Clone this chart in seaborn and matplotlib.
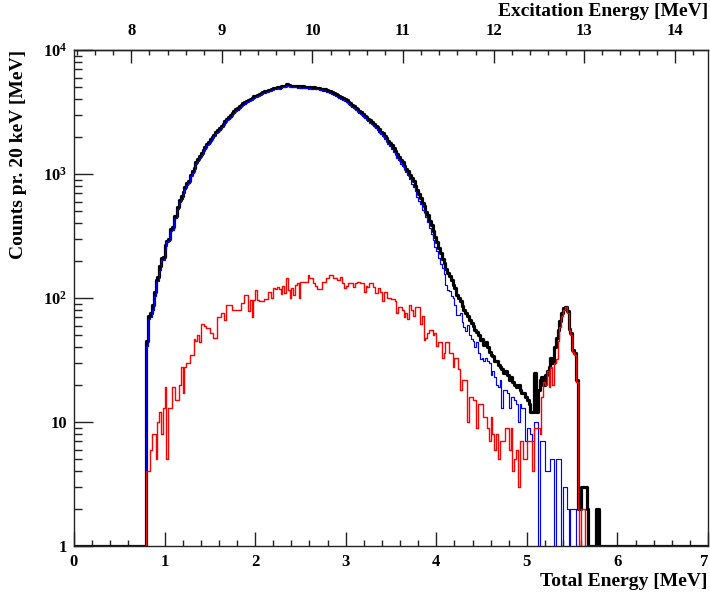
import numpy as np
import pandas as pd
import matplotlib
matplotlib.use("Agg")
import matplotlib.pyplot as plt
import seaborn as sns
from matplotlib.ticker import (FixedLocator, FixedFormatter, LogLocator,
                               MultipleLocator, NullFormatter)

# ---------------- data (counts per 20 keV bin) ----------------
bin_width = 0.02          # MeV
first_edge = 0.80         # MeV, first filled bin
n_bins = 350              # 0 - 7 MeV
ex_offset = 7.367         # Excitation = Total + offset

total_counts = [
    45, 72, 76, 88, 112, 140, 148, 180, 210, 214,
    268, 290, 300, 360, 375, 455, 460, 540, 620, 660,
    720, 790, 850, 880, 990, 1060, 1110, 1240, 1320, 1390,
    1490, 1560, 1640, 1760, 1800, 1910, 2000, 2060, 2190, 2260,
    2340, 2460, 2550, 2660, 2790, 2870, 2990, 3080, 3210, 3320,
    3390, 3510, 3600, 3720, 3780, 3880, 3960, 4050, 4110, 4220,
    4290, 4370, 4440, 4520, 4560, 4630, 4680, 4750, 4790, 4870,
    4930, 4980, 5060, 5010, 5090, 5140, 5100, 5310, 5200, 5150,
    5160, 5110, 5140, 5090, 5120, 5070, 5100, 5050, 5060, 5010,
    5040, 4980, 5000, 4950, 4970, 4900, 4880, 4840, 4810, 4750,
    4700, 4630, 4560, 4470, 4400, 4330, 4250, 4160, 4070, 4000,
    3930, 3800, 3710, 3620, 3520, 3430, 3340, 3240, 3160, 3050,
    2960, 2890, 2800, 2710, 2640, 2550, 2460, 2380, 2290, 2200,
    2130, 2030, 1960, 1860, 1790, 1700, 1610, 1540, 1440, 1380,
    1300, 1240, 1170, 1100, 1050, 980, 920, 870, 800, 740,
    690, 640, 585, 550, 495, 465, 420, 385, 345, 312,
    282, 255, 232, 208, 192, 172, 160, 150, 140, 128,
    120, 106, 100, 94, 86, 80, 76, 71, 66, 63,
    60, 55, 53, 50, 46, 47, 42, 44, 40, 37,
    35, 34, 31, 31, 29, 28, 27, 25, 26, 24,
    22, 23, 21, 20, 19, 20, 18, 17, 17, 16,
    15, 14, 12, 12, 25, 12, 18, 22, 23, 20,
    24, 26, 28, 33, 30, 40, 48, 55, 65, 75,
    83, 85, 78, 56, 52, 38, 36, 22, 2, 2,
    3, 3, 3, 2, 0, 0, 0, 0, 2, 2,
    0, 0, 0, 0, 0, 0, 0, 0, 0, 0,
]

blue_counts = [
    41, 68, 70, 80, 104, 135, 138, 168, 202, 201,
    249, 285, 287, 347, 356, 436, 445, 525, 600, 632,
    703, 762, 820, 850, 955, 1025, 1063, 1195, 1270, 1346,
    1428, 1498, 1580, 1703, 1743, 1858, 1948, 2012, 2142, 2190,
    2270, 2385, 2475, 2594, 2702, 2782, 2902, 3000, 3130, 3240,
    3310, 3430, 3509, 3629, 3674, 3774, 3882, 3953, 4040, 4123,
    4174, 4274, 4346, 4426, 4466, 4531, 4581, 4638, 4678, 4770,
    4810, 4862, 4938, 4892, 4982, 5014, 4990, 5166, 5085, 5050,
    5040, 5005, 5012, 4959, 5020, 4935, 4965, 4915, 4925, 4857,
    4896, 4836, 4869, 4825, 4851, 4781, 4761, 4705, 4675, 4606,
    4556, 4477, 4407, 4326, 4256, 4191, 4111, 4012, 3939, 3880,
    3805, 3669, 3579, 3489, 3398, 3299, 3205, 3105, 3029, 2919,
    2848, 2765, 2678, 2579, 2509, 2428, 2351, 2271, 2170, 2088,
    2036, 1918, 1848, 1760, 1690, 1600, 1512, 1442, 1345, 1304,
    1215, 1155, 1090, 1030, 975, 912, 832, 790, 728, 655,
    605, 578, 513, 504, 447, 413, 365, 330, 295, 260,
    241, 211, 188, 175, 156, 128, 116, 114, 104, 100,
    87, 73, 73, 76, 64, 58, 54, 61, 50, 47,
    45, 40, 44, 36, 32, 33, 31, 33, 31, 30,
    24, 26, 23, 20, 19, 22, 13, 18, 18, 17,
    13, 16, 16, 15, 14, 10, 14, 13, 13, 7,
    9, 9, 8, 7, 10, 10, 0, 7, 7, 7,
    4, 4, 4, 5, 5, 0, 5, 5, 5, 0,
    3, 3, 2, 0, 2, 2, 2, 0, 0, 0,
    0, 0, 0, 0, 0, 0, 0, 0, 0, 0,
    0, 0, 0, 0, 0, 0, 0, 0, 0, 0,
]

red_counts = [
    4, 4, 6, 8, 8, 5, 10, 12, 8, 13,
    19, 5, 13, 13, 19, 19, 15, 15, 20, 28,
    17, 28, 30, 30, 35, 35, 47, 45, 50, 44,
    62, 62, 60, 57, 57, 52, 52, 48, 48, 70,
    70, 75, 75, 66, 88, 88, 88, 80, 80, 80,
    80, 80, 91, 91, 106, 106, 78, 97, 70, 97,
    116, 96, 94, 94, 94, 99, 99, 112, 112, 100,
    120, 118, 122, 118, 108, 126, 110, 144, 115, 100,
    120, 105, 128, 131, 100, 135, 135, 135, 135, 153,
    144, 144, 131, 125, 119, 119, 119, 135, 135, 144,
    144, 153, 153, 144, 144, 139, 139, 148, 131, 120,
    125, 131, 131, 131, 122, 131, 135, 135, 131, 131,
    112, 125, 122, 131, 131, 122, 109, 109, 120, 112,
    94, 112, 112, 100, 100, 98, 98, 95, 76, 85,
    85, 80, 70, 75, 68, 88, 80, 72, 85, 85,
    85, 62, 72, 46, 48, 52, 55, 55, 50, 52,
    41, 44, 44, 33, 36, 44, 44, 36, 36, 28,
    33, 33, 27, 18, 22, 22, 22, 10, 16, 16,
    15, 15, 9, 14, 14, 14, 11, 11, 9, 7,
    11, 8, 6, 8, 5, 7, 7, 7, 9, 9,
    6, 9, 4, 5, 6, 3, 7, 7, 5, 5,
    7, 7, 7, 4, 9, 9, 9, 8, 16, 21,
    20, 26, 19, 28, 20, 30, 32, 45, 58, 72,
    80, 84, 76, 55, 50, 37, 35, 21, 2, 0,
    2, 2, 0, 0, 0, 0, 0, 0, 0, 0,
    0, 0, 0, 0, 0, 0, 0, 0, 0, 0,
]

x_tick_labels = ["0", "1", "2", "3", "4", "5", "6", "7"]
y_tick_values = [1, 10, 100, 1000, 10000]
y_tick_labels = ["1", "10", r"$10^{2}$", r"$10^{3}$", r"$10^{4}$"]
ex_tick_labels = ["8", "9", "10", "11", "12", "13", "14"]

# ---------------- style ----------------
sns.set_theme(style="white")
plt.rcParams["font.family"] = ["Liberation Serif", "DejaVu Serif"]
plt.rcParams["font.weight"] = "bold"
plt.rcParams["mathtext.fontset"] = "custom"
plt.rcParams["mathtext.rm"] = "Liberation Serif:bold"
plt.rcParams["mathtext.bf"] = "Liberation Serif:bold"
plt.rcParams["mathtext.it"] = "Liberation Serif:bold:italic"

frame_col = "#222222"
edges = [round(i * bin_width, 4) for i in range(n_bins + 1)]
centers = np.array(edges[:-1]) + bin_width / 2
lead = int(round(first_edge / bin_width))


def full_hist(vals):
    arr = np.zeros(n_bins)
    arr[lead:lead + len(vals)] = vals
    # empty bins are drawn on the frame minimum (as in a ROOT log plot)
    return np.clip(arr, 1, None)


fig = plt.figure(figsize=(7.1, 5.95), dpi=100)
ax = fig.add_axes([74 / 710, 1 - 546 / 595, 634 / 710, 496 / 595])

for vals, color, lw in [(total_counts, "#000000", 2.3),
                        (blue_counts, "#0000ff", 0.85),
                        (red_counts, "#ff0000", 1.0)]:
    df = pd.DataFrame({"energy": centers, "counts": full_hist(vals)})
    sns.histplot(data=df, x="energy", weights="counts", bins=edges,
                 element="step", fill=False, color=color, linewidth=lw,
                 ax=ax)

ax.set_yscale("log")
ax.set_xlim(0, 7)
ax.set_ylim(1, 1e4)

for s in ax.spines.values():
    s.set_color(frame_col)
    s.set_linewidth(1.0)

# x axis (bottom)
ax.xaxis.set_major_locator(FixedLocator(list(range(8))))
ax.xaxis.set_major_formatter(FixedFormatter(x_tick_labels))
ax.xaxis.set_minor_locator(MultipleLocator(0.2))
ax.tick_params(axis="x", which="major", direction="in", length=10,
               width=1, bottom=True, top=False, labelsize=12, pad=6,
               colors=frame_col, labelcolor="#000000")
ax.tick_params(axis="x", which="minor", direction="in", length=4.3,
               width=1, bottom=True, top=False, colors=frame_col)
# keep the last label ("7") inside the canvas, as in the reference
ax.xaxis.get_major_ticks()[-1].label1.set_horizontalalignment("right")

# y axis (log)
ax.yaxis.set_major_locator(FixedLocator(y_tick_values))
ax.yaxis.set_major_formatter(FixedFormatter(y_tick_labels))
ax.yaxis.set_minor_locator(LogLocator(base=10, subs=np.arange(2, 10)))
ax.yaxis.set_minor_formatter(NullFormatter())
ax.tick_params(axis="y", which="major", direction="in", length=13.7,
               width=1, left=True, right=False, labelsize=12, pad=5,
               colors=frame_col, labelcolor="#000000")
ax.tick_params(axis="y", which="minor", direction="in", length=5.8,
               width=1, left=True, right=False, colors=frame_col)

ax.set_xlabel("Total Energy [MeV]", fontsize=14, fontweight="bold",
              loc="right", color="#000000")
ax.xaxis.set_label_coords(1.0, -(573 - 546) / 496)
ax.set_ylabel("Counts pr. 20 keV [MeV]", fontsize=14, fontweight="bold",
              loc="top", color="#000000")
ax.yaxis.set_label_coords((27 - 74) / 634, 1.0)

# top axis: excitation energy
secax = ax.secondary_xaxis("top", functions=(lambda e: e + ex_offset,
                                             lambda x: x - ex_offset))
secax.xaxis.set_major_locator(FixedLocator(list(range(8, 15))))
secax.xaxis.set_major_formatter(FixedFormatter(ex_tick_labels))
secax.xaxis.set_minor_locator(MultipleLocator(0.2))
secax.tick_params(axis="x", which="major", direction="in", length=9,
                  width=1, labelsize=12, pad=8, colors=frame_col,
                  labelcolor="#000000")
secax.tick_params(axis="x", which="minor", direction="in", length=3.8,
                  width=1, colors=frame_col)
secax.spines["top"].set_linewidth(1.0)
secax.spines["top"].set_color(frame_col)
fig.text(708 / 710, 1 - 11 / 595, "Excitation Energy [MeV]", fontsize=14,
         fontweight="bold", ha="right", va="center", color="#000000")

fig.savefig("out.png", dpi=100, facecolor="white")
